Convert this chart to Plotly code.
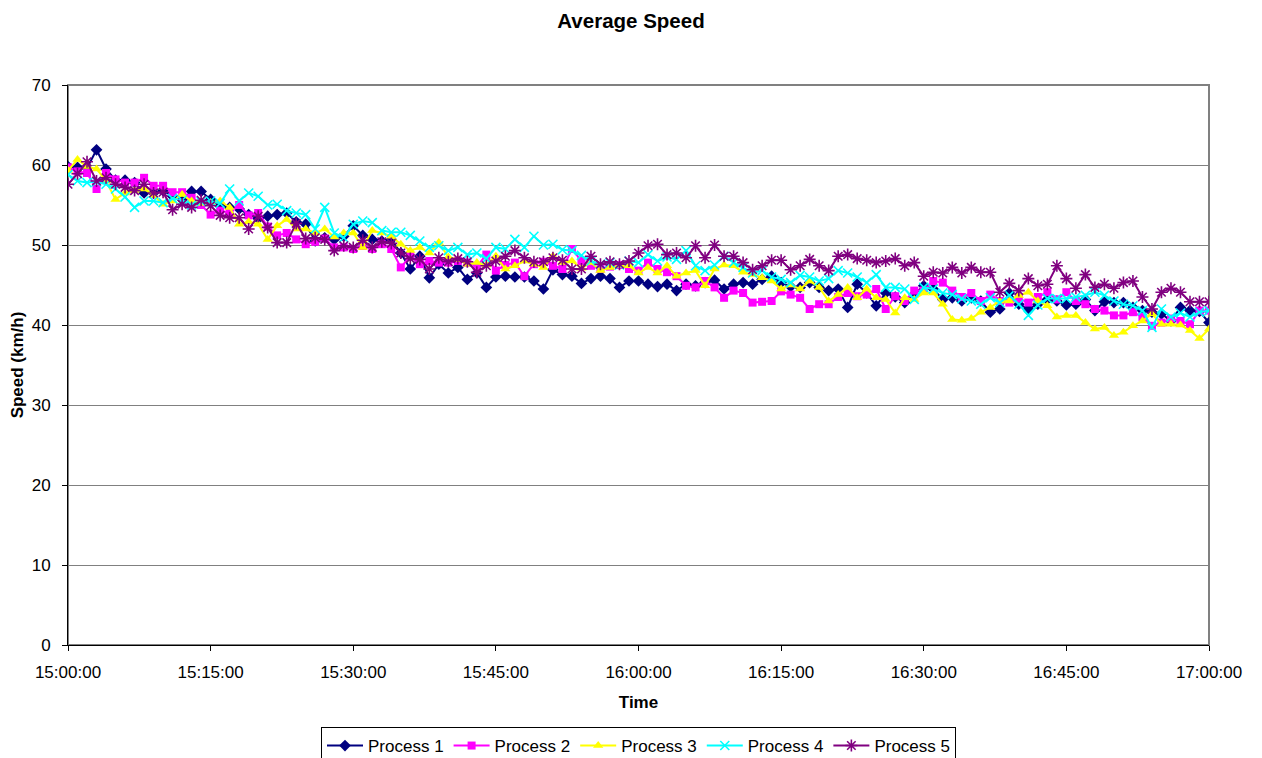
import pandas as pd
import plotly.graph_objects as go

times = pd.date_range("2024-01-01 15:00:00", "2024-01-01 17:00:00", freq="1min")

process_1 = [59.8, 59.7, 59.6, 61.9, 59.5, 58.1, 58.1, 57.8, 56.5, 56.5,
             56.8, 56.1, 55.7, 56.7, 56.7, 55.7, 54.9, 54.7, 54.5, 53.8,
             53.3, 53.6, 53.8, 54.0, 52.9, 52.6, 50.5, 50.9, 50.7, 51.1,
             52.4, 51.2, 50.7, 50.5, 50.7, 49.0, 47.0, 48.6, 45.9, 47.6,
             46.5, 47.2, 45.7, 46.5, 44.7, 46.0, 46.1, 46.0, 46.0, 45.5,
             44.5, 46.9, 46.3, 46.1, 45.2, 45.8, 46.1, 45.8, 44.7, 45.5,
             45.5, 45.1, 44.8, 45.1, 44.3, 45.1, 44.9, 45.3, 45.6, 44.5,
             45.1, 45.3, 45.1, 45.7, 46.1, 45.3, 44.8, 44.7, 45.3, 44.7,
             44.3, 44.5, 42.2, 45.1, 44.0, 42.4, 44.0, 43.5, 42.8, 43.8,
             44.9, 44.5, 43.2, 43.4, 43.0, 43.4, 43.0, 41.6, 42.0, 44.0,
             42.6, 42.0, 42.6, 43.2, 43.0, 42.5, 42.6, 43.2, 41.8, 42.9,
             42.8, 42.8, 42.2, 41.8, 41.6, 41.4, 40.5, 42.2, 41.8, 41.7,
             40.3]

process_2 = [59.7, 59.2, 59.0, 57.0, 59.0, 58.2, 57.8, 57.8, 58.4, 57.4,
             57.4, 56.6, 56.6, 55.9, 55.0, 53.8, 54.3, 54.0, 55.0, 53.7,
             54.0, 52.3, 51.2, 51.5, 50.7, 50.1, 50.4, 50.8, 49.7, 49.7,
             49.5, 49.9, 49.5, 50.1, 49.5, 47.2, 48.6, 47.6, 48.0, 47.8,
             47.8, 48.0, 47.8, 47.3, 48.8, 46.8, 47.5, 47.8, 46.1, 47.6,
             47.9, 47.4, 47.0, 49.5, 48.0, 47.4, 47.0, 47.3, 47.5, 47.0,
             46.8, 47.8, 47.0, 46.6, 46.1, 44.9, 44.7, 45.5, 44.7, 43.4,
             44.3, 44.0, 42.8, 42.9, 43.0, 44.2, 43.8, 43.4, 42.0, 42.6,
             42.6, 43.5, 44.0, 43.6, 43.8, 44.5, 42.0, 43.6, 43.0, 44.3,
             44.3, 45.5, 45.3, 44.3, 43.5, 44.0, 43.0, 43.8, 43.0, 42.8,
             43.3, 42.8, 43.5, 44.1, 43.2, 44.1, 43.0, 42.6, 42.0, 41.8,
             41.2, 41.2, 41.6, 41.0, 39.9, 40.3, 40.8, 40.5, 40.1, 41.8,
             41.8]

process_3 = [59.3, 60.7, 59.8, 59.5, 58.0, 55.7, 56.5, 56.8, 57.0, 56.2,
             55.1, 55.5, 56.3, 55.5, 55.2, 55.3, 55.5, 54.7, 52.6, 52.9,
             52.6, 50.7, 52.4, 53.2, 52.0, 52.0, 51.5, 52.0, 51.0, 51.5,
             51.5, 49.7, 51.8, 51.5, 51.1, 50.1, 49.3, 49.7, 49.0, 50.3,
             48.5, 48.2, 47.6, 47.8, 47.5, 48.6, 47.0, 47.4, 48.0, 47.6,
             47.2, 48.6, 47.8, 48.0, 47.1, 47.8, 46.8, 47.2, 47.4, 47.4,
             46.5, 47.2, 46.5, 47.4, 46.1, 46.5, 46.8, 44.9, 47.0, 47.5,
             47.4, 46.6, 46.3, 45.9, 45.5, 44.5, 45.0, 44.5, 45.5, 44.7,
             43.0, 43.8, 44.7, 43.4, 44.5, 43.4, 43.2, 41.5, 43.4, 43.2,
             44.0, 44.0, 42.6, 40.7, 40.6, 40.8, 41.6, 42.2, 43.0, 43.0,
             43.7, 44.1, 43.0, 42.4, 41.0, 41.2, 41.2, 40.3, 39.5, 39.7,
             38.7, 39.1, 39.9, 40.5, 41.4, 40.1, 40.1, 40.0, 39.3, 38.3,
             39.5]

process_4 = [58.8, 58.0, 57.8, 57.9, 57.6, 57.0, 56.0, 54.7, 55.5, 55.5,
             55.3, 55.8, 55.6, 55.0, 55.4, 55.5, 55.2, 57.0, 55.5, 56.5,
             56.1, 55.0, 55.1, 54.3, 54.0, 53.8, 52.0, 54.7, 51.5, 50.9,
             52.6, 53.0, 52.8, 51.8, 51.6, 51.6, 51.2, 50.5, 49.7, 49.9,
             49.3, 49.7, 48.8, 49.0, 48.3, 49.7, 49.5, 50.7, 49.7, 51.1,
             50.0, 50.1, 49.4, 49.3, 48.7, 48.0, 47.6, 47.8, 47.5, 48.0,
             47.8, 48.8, 48.0, 48.5, 48.2, 49.3, 47.4, 46.8, 47.5, 48.6,
             47.8, 47.2, 46.5, 46.8, 46.0, 45.7, 45.3, 46.2, 46.0, 45.5,
             45.8, 46.8, 46.5, 46.0, 45.3, 46.3, 44.7, 44.7, 44.5, 43.2,
             44.7, 44.5, 44.0, 43.8, 43.3, 43.0, 42.6, 43.4, 42.8, 43.7,
             42.6, 41.2, 42.5, 43.3, 43.3, 43.3, 43.5, 43.7, 44.1, 43.7,
             43.0, 42.6, 42.4, 41.8, 39.7, 42.0, 41.0, 41.5, 41.0, 41.6,
             41.8]

process_5 = [57.6, 58.9, 60.4, 58.0, 58.4, 57.6, 57.2, 56.8, 57.6, 56.5,
             56.6, 54.4, 55.1, 54.7, 55.6, 54.9, 53.7, 53.4, 53.4, 52.0,
             53.6, 52.2, 50.3, 50.3, 52.7, 50.8, 50.9, 50.7, 49.3, 49.9,
             49.7, 50.6, 49.7, 50.4, 50.2, 49.0, 48.3, 48.2, 47.0, 48.4,
             47.9, 48.3, 47.9, 46.6, 47.4, 48.0, 48.6, 49.3, 48.4, 47.9,
             47.9, 48.4, 48.1, 47.0, 47.0, 48.6, 47.6, 47.9, 47.6, 48.0,
             49.0, 49.9, 50.1, 48.8, 49.0, 48.4, 49.9, 48.4, 50.0, 48.6,
             48.6, 47.8, 46.9, 47.4, 48.1, 48.1, 46.9, 47.4, 48.2, 47.4,
             46.8, 48.6, 48.8, 48.3, 48.1, 47.8, 48.0, 48.3, 47.4, 47.8,
             46.1, 46.6, 46.5, 47.2, 46.5, 47.2, 46.6, 46.6, 44.1, 45.2,
             44.3, 45.8, 44.9, 45.1, 47.4, 45.8, 44.6, 46.3, 44.7, 45.1,
             44.6, 45.3, 45.5, 43.5, 42.0, 44.1, 44.6, 44.1, 42.9, 42.9,
             42.9]

series_names = ["Process 1", "Process 2", "Process 3", "Process 4", "Process 5"]
series_values = [process_1, process_2, process_3, process_4, process_5]
colors = ["#000080", "#FF00FF", "#FFFF00", "#00FFFF", "#800080"]
symbols = ["diamond", "square", "triangle-up", "x-thin-open", "asterisk-open"]
sizes = [9, 8, 9, 9, 10]

fig = go.Figure()
for name, vals, col, sym, sz in zip(series_names, series_values, colors, symbols, sizes):
    open_sym = sym.endswith("open")
    fig.add_trace(go.Scatter(
        x=times, y=vals, name=name, mode="lines+markers",
        line=dict(color=col, width=2),
        marker=dict(symbol=sym, size=sz, color=col,
                    line=dict(color=col, width=1.6 if open_sym else 0)),
    ))

font_family = "Liberation Sans, Arial, sans-serif"
fig.update_layout(
    width=1262, height=758,
    margin=dict(l=68, r=53, t=85, b=113),
    paper_bgcolor="white", plot_bgcolor="white",
    font=dict(family=font_family, size=17, color="black"),
    title=dict(text="<b>Average Speed</b>", x=0.5, xanchor="center",
               yref="container", y=1 - 21 / 758, yanchor="middle",
               font=dict(size=20.5, family=font_family)),
    showlegend=True,
    legend=dict(orientation="h", x=0.5, xanchor="center",
                yref="container", y=(758 - 727) / 758, yanchor="top",
                bordercolor="black", borderwidth=1, bgcolor="white",
                font=dict(size=17), itemwidth=36, tracegroupgap=0),
    xaxis=dict(type="date",
               range=[times[0], times[-1]],
               dtick=15 * 60 * 1000, tick0=times[0],
               tickformat="%H:%M:%S",
               showgrid=False, showline=True, linecolor="black", linewidth=1,
               ticks="outside", ticklen=5, tickcolor="black",
               tickfont=dict(size=17), ticklabelstandoff=7,
               title=dict(text="<b>Time</b>", standoff=14, font=dict(size=17))),
    yaxis=dict(range=[0, 70], dtick=10, showgrid=True, gridcolor="#808080",
               gridwidth=1, showline=True, linecolor="black", linewidth=1,
               ticks="outside", ticklen=5, tickcolor="black", zeroline=False,
               tickfont=dict(size=17), ticklabelstandoff=8,
               title=dict(text="<b>Speed (km/h)</b>", standoff=3, font=dict(size=17))),
    shapes=[dict(type="rect", xref="paper", yref="paper", x0=0, x1=1, y0=0, y1=1,
                 line=dict(color="#808080", width=2), layer="below")],
)

fig.write_html("out.html")
